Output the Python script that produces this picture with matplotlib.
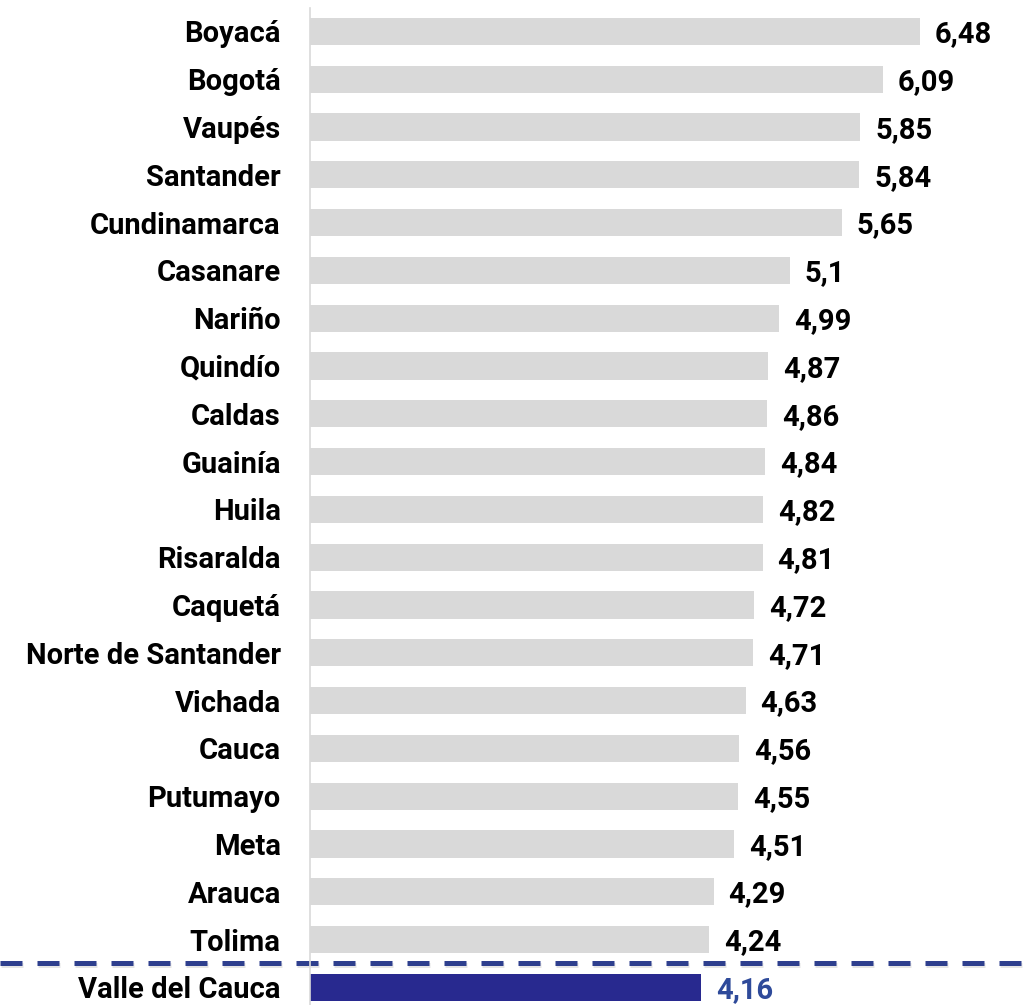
import matplotlib.pyplot as plt
import matplotlib.patheffects as pe

departamentos = ["Boyacá", "Bogotá", "Vaupés", "Santander", "Cundinamarca", "Casanare",
                 "Nariño", "Quindío", "Caldas", "Guainía", "Huila", "Risaralda", "Caquetá",
                 "Norte de Santander", "Vichada", "Cauca", "Putumayo", "Meta", "Arauca",
                 "Tolima", "Valle del Cauca"]
valores = [6.48, 6.09, 5.85, 5.84, 5.65, 5.1, 4.99, 4.87, 4.86, 4.84, 4.82, 4.81, 4.72,
           4.71, 4.63, 4.56, 4.55, 4.51, 4.29, 4.24, 4.16]
etiquetas = ["6,48", "6,09", "5,85", "5,84", "5,65", "5,1", "4,99", "4,87", "4,86", "4,84",
             "4,82", "4,81", "4,72", "4,71", "4,63", "4,56", "4,55", "4,51", "4,29", "4,24",
             "4,16"]

plt.rcParams['font.family'] = ['Roboto', 'DejaVu Sans']

fig = plt.figure(figsize=(10.25, 10.05), dpi=100)
ax = fig.add_axes([310 / 1025, 0, 715 / 1025, 1 - 8 / 1005])

pos = list(range(len(departamentos)))
colores = ['#D9D9D9'] * (len(valores) - 1) + ['#28298F']
ax.barh(pos, valores, height=0.57, color=colores)

for i, (v, t) in enumerate(zip(valores, etiquetas)):
    c = '#2E4A9A' if i == len(valores) - 1 else 'black'
    ax.text(v + 0.16, i + 0.06, t, va='center', ha='left', fontsize=21,
            fontweight='bold', color=c)

ax.set_xlim(0, 7.6)
ax.set_ylim(20.37, -0.49)
ax.set_yticks(pos)
ax.set_yticklabels(departamentos, fontsize=21, fontweight='bold')
ax.tick_params(axis='y', length=0, pad=21)
ax.set_xticks([])
for s in ['top', 'right', 'bottom']:
    ax.spines[s].set_visible(False)
ax.spines['left'].set_color('#D9D9D9')
ax.spines['left'].set_linewidth(1.2)

# linea punteada de referencia
ax.axhline(19.5, xmin=-310 / 715, xmax=1, color='#2E3F8E', linewidth=3.6,
           linestyle=(0, (4.4, 3.0)), clip_on=False,
           path_effects=[pe.SimpleLineShadow(offset=(0.5, -1.0), alpha=0.1),
                         pe.Normal()])

fig.savefig('out.png', dpi=100)
